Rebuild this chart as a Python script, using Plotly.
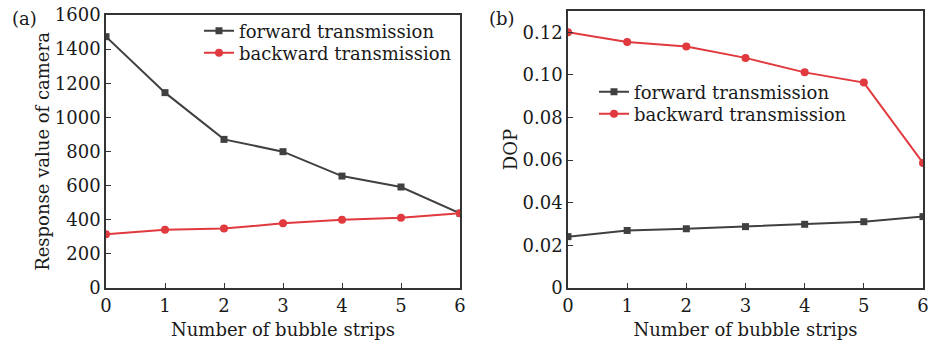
import plotly.graph_objects as go

strips = [0, 1, 2, 3, 4, 5, 6]
resp_forward = [1473, 1145, 871, 799, 656, 592, 438]
resp_backward = [315, 342, 348, 379, 400, 412, 438]
dop_forward = [0.0241, 0.0270, 0.0278, 0.0288, 0.0299, 0.0311, 0.0335]
dop_backward = [0.1200, 0.1155, 0.1133, 0.1080, 0.1012, 0.0964, 0.0587]

W, H = 928, 340
GRAY = "#404040"
RED = "#e0393e"
FONT = "DejaVu Serif"
TXT = "#1a1a1a"
FS = 18

fig = go.Figure()

def add(x, y, name, color, symbol, size, xa, ya, legend):
    fig.add_trace(go.Scatter(
        x=x, y=y, name=name, mode="lines+markers",
        line=dict(color=color, width=2),
        marker=dict(symbol=symbol, size=size, color=color),
        xaxis=xa, yaxis=ya, legend=legend))

add(strips, resp_forward, "forward transmission", GRAY, "square", 7, "x", "y", "legend")
add(strips, resp_backward, "backward transmission", RED, "circle", 8, "x", "y", "legend2")
add(strips, dop_forward, "forward transmission", GRAY, "square", 7, "x2", "y2", "legend3")
add(strips, dop_backward, "backward transmission", RED, "circle", 8, "x2", "y2", "legend4")

def px_dom(a, b, total):
    return [a / total, b / total]

axis_common = dict(showline=True, mirror=True, linecolor="#333333", linewidth=1.5,
                   ticks="inside", ticklen=5, tickwidth=1.2, tickcolor="#333333",
                   showgrid=False, zeroline=False, automargin=False,
                   ticklabeloverflow="allow",
                   tickfont=dict(family=FONT, size=FS, color=TXT),
                   title_font=dict(family=FONT, size=FS, color=TXT))

def leg(xpx, ypx):
    return dict(x=xpx / W, y=1 - ypx / H, xanchor="left", yanchor="middle",
                bgcolor="rgba(0,0,0,0)", font=dict(family=FONT, size=FS, color=TXT),
                itemwidth=30, tracegroupgap=0)

fig.update_layout(
    template="none",
    width=W, height=H, margin=dict(l=0, r=0, t=0, b=0),
    paper_bgcolor="white", plot_bgcolor="white",
    font=dict(family=FONT, color=TXT),
    xaxis=dict(domain=px_dom(106, 460, W), range=[0, 6], tickvals=strips,
               title=dict(text="Number of bubble strips"), anchor="y",
               ticklabelstandoff=1, **axis_common),
    yaxis=dict(domain=[(H - 288) / H, (H - 15) / H], range=[0, 1600], dtick=200,
               title=dict(text="Response value of camera"), anchor="x", **axis_common),
    xaxis2=dict(domain=px_dom(568, 923, W), range=[0, 6], tickvals=strips,
                title=dict(text="Number of bubble strips"), anchor="y2",
                ticklabelstandoff=1, **axis_common),
    yaxis2=dict(domain=[(H - 288) / H, (H - 11) / H], range=[0, 0.13],
                tickvals=[0, 0.02, 0.04, 0.06, 0.08, 0.10, 0.12],
                ticktext=["0", "0.02", "0.04", "0.06", "0.08", "0.10", "0.12"],
                title=dict(text="DOP"), anchor="x2", **axis_common),
    legend=leg(199, 31),
    legend2=leg(199, 53),
    legend3=leg(594, 92),
    legend4=leg(594, 114),
    showlegend=True,
)

fig.add_annotation(text="(a)", x=10 / W, y=1 - 6 / H, xref="paper", yref="paper",
                   xanchor="left", yanchor="top", showarrow=False,
                   font=dict(family=FONT, size=FS, color=TXT))
fig.add_annotation(text="(b)", x=487 / W, y=1 - 6 / H, xref="paper", yref="paper",
                   xanchor="left", yanchor="top", showarrow=False,
                   font=dict(family=FONT, size=FS, color=TXT))

fig.write_html("out.html")
